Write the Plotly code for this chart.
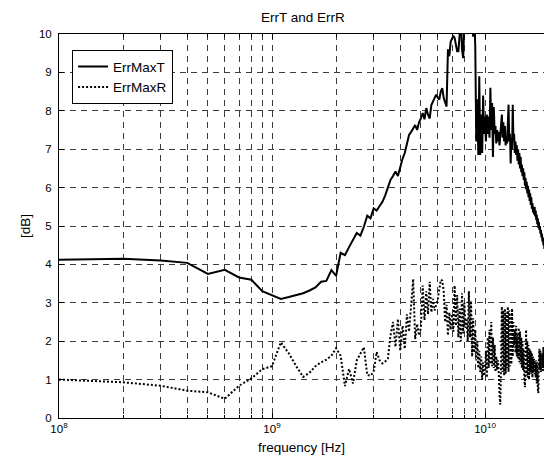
import plotly.graph_objects as go

# Frequency samples (GHz)
freq_ghz = [
    0.1, 0.2, 0.3, 0.4, 0.5, 0.6, 0.7, 0.8, 0.9, 1.0,
    1.1, 1.2, 1.3, 1.4, 1.5, 1.6, 1.7, 1.8, 1.9, 2.0,
    2.1, 2.2, 2.3, 2.4, 2.5, 2.6, 2.7, 2.8, 2.9, 3.0,
    3.1, 3.2, 3.3, 3.4, 3.5, 3.6, 3.7, 3.8, 3.9, 4.0,
    4.1, 4.2, 4.3, 4.4, 4.5, 4.6, 4.7, 4.8, 4.9, 5.0,
    5.1, 5.2, 5.3, 5.4, 5.5, 5.6, 5.7, 5.8, 5.9, 6.0,
    6.1, 6.2, 6.3, 6.4, 6.5, 6.6, 6.7, 6.8, 6.9, 7.0,
    7.1, 7.2, 7.3, 7.4, 7.5, 7.6, 7.7, 7.8, 7.9, 8.0,
    8.1, 8.2, 8.3, 8.4, 8.5, 8.6, 8.7, 8.8, 8.9, 9.0,
    9.1, 9.2, 9.3, 9.4, 9.5, 9.6, 9.7, 9.8, 9.9, 10.0,
    10.1, 10.2, 10.3, 10.4, 10.5, 10.6, 10.7, 10.8, 10.9, 11.0,
    11.1, 11.2, 11.3, 11.4, 11.5, 11.6, 11.7, 11.8, 11.9, 12.0,
    12.1, 12.2, 12.3, 12.4, 12.5, 12.6, 12.7, 12.8, 12.9, 13.0,
    13.1, 13.2, 13.3, 13.4, 13.5, 13.6, 13.7, 13.8, 13.9, 14.0,
    14.1, 14.2, 14.3, 14.4, 14.5, 14.6, 14.7, 14.8, 14.9, 15.0,
    15.1, 15.2, 15.3, 15.4, 15.5, 15.6, 15.7, 15.8, 15.9, 16.0,
    16.1, 16.2, 16.3, 16.4, 16.5, 16.6, 16.7, 16.8, 16.9, 17.0,
    17.1, 17.2, 17.3, 17.4, 17.5, 17.6, 17.7, 17.8, 17.9, 18.0,
    18.1, 18.2, 18.3, 18.4, 18.5, 18.6, 18.7, 18.8, 18.9, 19.0,
]

err_max_t = [
    4.12, 4.15, 4.10, 4.04, 3.75, 3.86, 3.66, 3.60, 3.30, 3.20,
    3.10, 3.15, 3.20, 3.25, 3.32, 3.40, 3.55, 3.57, 3.85, 3.70,
    4.30, 4.24, 4.45, 4.65, 4.82, 4.75, 4.98, 5.27, 5.20, 5.46,
    5.40, 5.52, 5.63, 5.80, 6.00, 6.20, 6.30, 6.42, 6.30, 6.55,
    6.75, 6.90, 7.15, 7.37, 7.45, 7.55, 7.63, 7.50, 7.70, 7.80,
    7.94, 7.78, 8.07, 7.90, 7.80, 8.15, 8.25, 8.35, 8.42, 8.35,
    8.29, 8.50, 8.59, 8.33, 8.20, 8.11, 9.60, 9.42, 9.80, 9.90,
    9.95, 9.90, 9.70, 9.55, 9.55, 9.93, 10.40, 9.60, 9.37, 10.30,
    10.60, 10.20, 10.00, 10.50, 10.20, 10.60, 10.30, 9.93, 10.40, 9.70,
    7.20, 8.30, 6.85, 8.90, 6.85, 7.90, 6.90, 8.40, 7.40, 7.85,
    7.20, 7.90, 7.40, 7.85, 7.30, 8.60, 7.50, 8.20, 6.80, 8.10,
    7.40, 7.60, 7.15, 7.50, 7.20, 7.45, 7.10, 7.40, 7.50, 7.90,
    7.30, 7.70, 7.20, 7.60, 7.10, 7.30, 7.15, 7.50, 8.16, 7.20,
    7.40, 6.63, 7.30, 7.00, 8.16, 7.20, 7.40, 6.90, 7.20, 6.85,
    7.10, 6.70, 7.00, 6.60, 6.90, 6.50, 6.80, 6.40, 6.60, 6.30,
    6.50, 6.20, 6.40, 6.05, 6.25, 5.95, 6.15, 5.85, 6.05, 5.75,
    5.95, 5.65, 5.85, 5.55, 5.75, 5.45, 5.60, 5.35, 5.50, 5.30,
    5.50, 5.25, 5.40, 5.15, 5.30, 5.05, 5.20, 4.95, 5.10, 4.90,
    5.00, 4.80, 4.90, 4.70, 4.80, 4.60, 4.70, 4.50, 4.60, 4.40,
]

err_max_r = [
    1.00, 0.93, 0.84, 0.71, 0.67, 0.50, 0.84, 1.03, 1.27, 1.35,
    1.97, 1.68, 1.35, 1.07, 1.18, 1.35, 1.45, 1.52, 1.62, 1.82,
    1.62, 0.83, 1.28, 0.90, 1.50, 1.68, 1.84, 1.12, 1.10, 1.20,
    1.72, 1.50, 1.42, 1.47, 1.55, 2.15, 2.50, 1.85, 2.58, 1.75,
    2.40, 1.80, 2.70, 2.25, 3.00, 3.62, 2.05, 2.45, 2.15, 2.35,
    3.45, 2.55, 3.30, 2.70, 3.55, 2.75, 3.10, 2.80, 2.95, 3.10,
    3.35, 3.60, 3.58, 3.30, 2.50, 2.95, 2.15, 2.75, 2.30, 2.70,
    2.25, 3.45, 2.40, 3.20, 2.10, 2.85, 2.00, 3.25, 2.20, 3.00,
    2.35, 2.60, 2.00, 3.30, 2.10, 3.05, 1.60, 2.60, 1.70, 2.30,
    1.50, 2.00, 1.30, 1.75, 1.20, 1.60, 1.00, 1.45, 1.10, 1.20,
    1.75, 1.05, 2.10, 1.30, 2.30, 1.40, 2.50, 1.35, 2.10, 1.30,
    1.90, 1.20, 1.60, 1.25, 1.50, 1.20, 0.60, 0.35, 1.50, 2.90,
    1.20, 2.80, 1.10, 2.85, 1.15, 2.75, 1.30, 2.90, 1.20, 2.80,
    1.35, 2.70, 1.40, 2.85, 1.60, 2.50, 1.90, 2.30, 1.70, 2.40,
    1.60, 2.20, 1.55, 2.35, 1.45, 2.25, 1.40, 2.10, 1.30, 2.00,
    1.25, 1.80, 1.00, 0.80, 1.50, 2.30, 1.10, 2.00, 1.05, 1.90,
    1.00, 1.80, 1.20, 1.75, 1.15, 1.70, 1.05, 1.60, 1.20, 1.55,
    1.15, 1.45, 1.05, 1.50, 0.90, 1.45, 0.75, 0.65, 1.40, 1.80,
    1.25, 1.75, 1.20, 1.70, 1.30, 1.65, 1.20, 1.85, 1.30, 1.70,
]

series_names = ["ErrMaxT", "ErrMaxR"]

x_major_ticks = [1e8, 1e9, 1e10]
x_major_labels = ["10<sup>8</sup>", "10<sup>9</sup>", "10<sup>10</sup>"]
x_minor_ticks = [2e8, 3e8, 4e8, 5e8, 6e8, 7e8, 8e8, 9e8,
                 2e9, 3e9, 4e9, 5e9, 6e9, 7e9, 8e9, 9e9,
                 2e10]
y_ticks = [0, 1, 2, 3, 4, 5, 6, 7, 8, 9, 10]

freq_hz = [f * 1e9 for f in freq_ghz]

FONT = "Liberation Sans, Arial, Helvetica, sans-serif"
GRID = "#3c3c3c"
GRID_DASH = "6px,5px"

fig = go.Figure()
fig.add_trace(go.Scatter(
    x=freq_hz, y=err_max_t, mode="lines", name=series_names[0],
    line=dict(color="black", width=2),
))
fig.add_trace(go.Scatter(
    x=freq_hz, y=err_max_r, mode="lines", name=series_names[1],
    line=dict(color="black", width=2, dash="2px,2px"),
))

fig.update_layout(
    width=544, height=464,
    margin=dict(l=59, r=0, t=34, b=46),
    paper_bgcolor="white", plot_bgcolor="white",
    font=dict(family=FONT, size=11, color="black"),
    showlegend=True,
    legend=dict(
        x=0.027, y=0.958, xanchor="left", yanchor="top",
        bgcolor="white", bordercolor="black", borderwidth=1,
        font=dict(family=FONT, size=13.5, color="black"),
        tracegroupgap=0,
    ),
    xaxis=dict(
        type="log", range=[8, 10.277],
        tickmode="array", tickvals=x_major_ticks, ticktext=x_major_labels,
        ticks="inside", ticklen=5, tickcolor="black",
        showline=True, linecolor="black", linewidth=1, mirror="ticks",
        showgrid=True, gridcolor=GRID, griddash=GRID_DASH, gridwidth=1,
        zeroline=False,
        tickfont=dict(family=FONT, size=11.5, color="black"),
        minor=dict(tickmode="array", tickvals=x_minor_ticks,
                   ticks="inside", ticklen=3, tickcolor="black",
                   showgrid=True, gridcolor=GRID, griddash=GRID_DASH, gridwidth=1),
    ),
    yaxis=dict(
        range=[0, 10], tickmode="array", tickvals=y_ticks,
        ticks="inside", ticklen=5, tickcolor="black",
        showline=True, linecolor="black", linewidth=1, mirror=False,
        showgrid=True, gridcolor=GRID, griddash=GRID_DASH, gridwidth=1,
        zeroline=False,
        tickfont=dict(family=FONT, size=11.5, color="black"),
        ticklabelstandoff=4,
    ),
    annotations=[
        dict(text="ErrT and ErrR", xref="paper", yref="paper",
             x=0.503, y=1.044, xanchor="center", yanchor="middle",
             showarrow=False, font=dict(family=FONT, size=13.5, color="black")),
        dict(text="frequency [Hz]", xref="paper", yref="paper",
             x=0.501, y=-0.078, xanchor="center", yanchor="middle",
             showarrow=False, font=dict(family=FONT, size=13.5, color="black")),
        dict(text="[dB]", xref="paper", yref="paper",
             x=-0.070, y=0.5, xanchor="center", yanchor="middle", textangle=-90,
             showarrow=False, font=dict(family=FONT, size=13.5, color="black")),
    ],
)

fig.write_html("out.html")
